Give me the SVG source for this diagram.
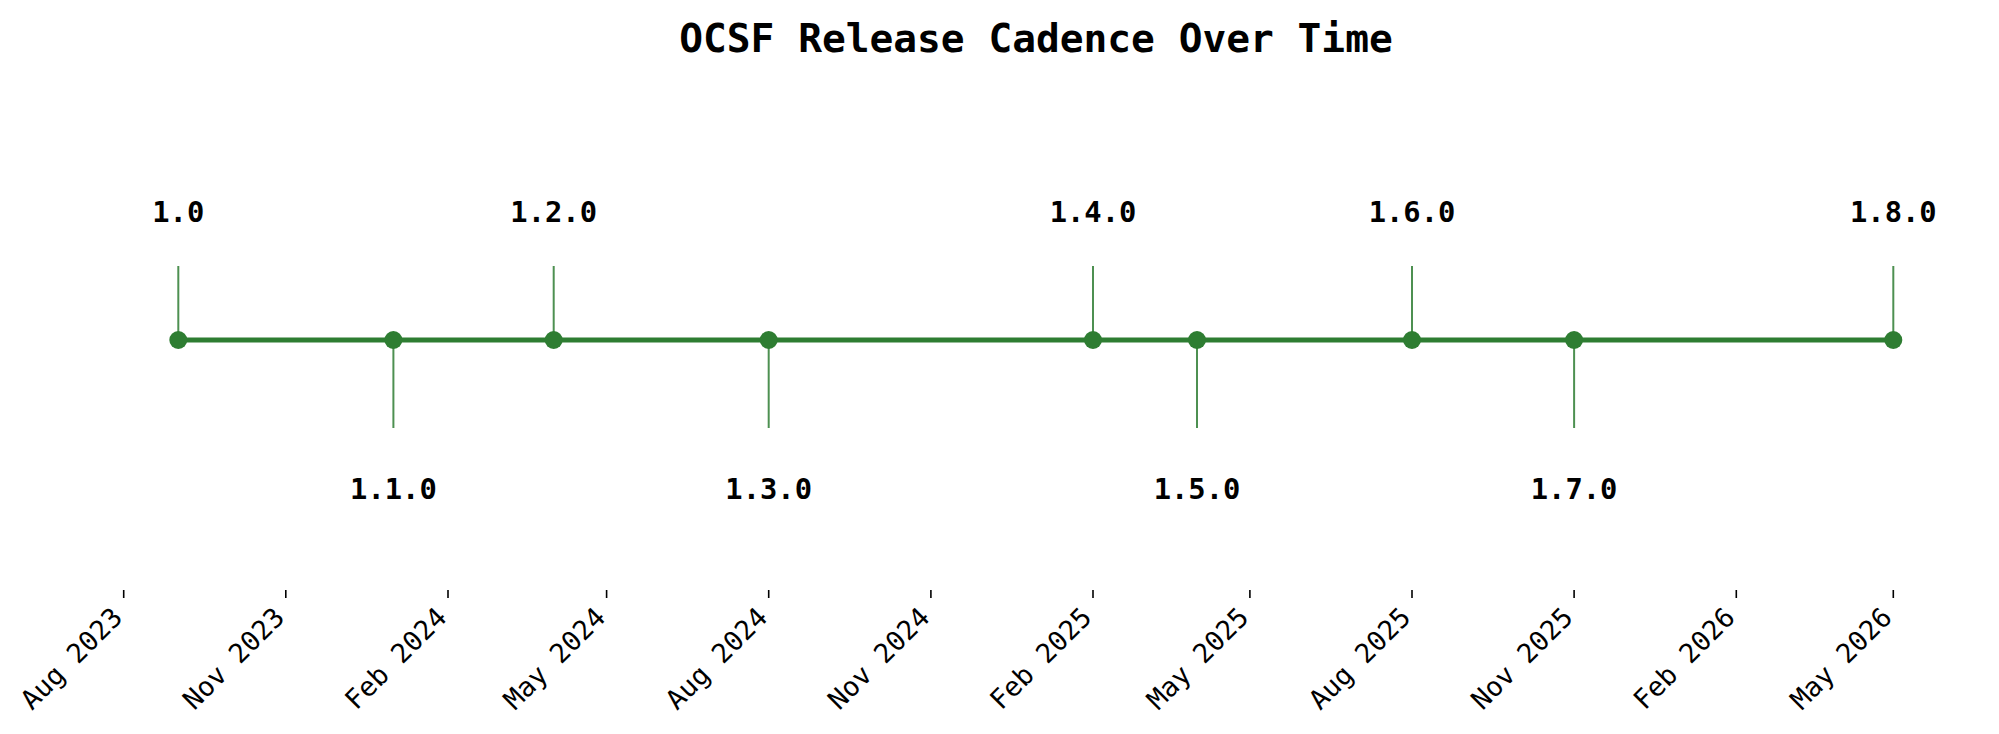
<svg xmlns="http://www.w3.org/2000/svg" width="1999" height="734" viewBox="0 0 1999 734">
<style>
.title{font-family:"DejaVu Sans Mono",monospace;font-weight:bold;font-size:39.5px;fill:#000;text-anchor:middle}
.lbl{font-family:"DejaVu Sans Mono",monospace;font-weight:bold;font-size:28.8px;fill:#000;text-anchor:middle}
.tick{font-family:"DejaVu Sans Mono",monospace;font-size:27px;fill:#000;text-anchor:end}
.stem{stroke:#2e7d32;stroke-opacity:0.85;stroke-width:2}
.dot{fill:#2e7d32}
.tk{stroke:#000;stroke-width:1.6}
</style>
<rect width="1999" height="734" fill="#fff"/>
<text class="title" x="1036" y="52">OCSF Release Cadence Over Time</text>
<g id="connectors">
<line x1="178.3" y1="340" x2="1893.3" y2="340" stroke="#2e7d32" stroke-width="5"/>
<line class="stem" x1="178.3" y1="340" x2="178.3" y2="266"/>
<line class="stem" x1="393.4" y1="340" x2="393.4" y2="428"/>
<line class="stem" x1="553.7" y1="340" x2="553.7" y2="266"/>
<line class="stem" x1="768.7" y1="340" x2="768.7" y2="428"/>
<line class="stem" x1="1093" y1="340" x2="1093" y2="266"/>
<line class="stem" x1="1197" y1="340" x2="1197" y2="428"/>
<line class="stem" x1="1412" y1="340" x2="1412" y2="266"/>
<line class="stem" x1="1574.1" y1="340" x2="1574.1" y2="428"/>
<line class="stem" x1="1893.3" y1="340" x2="1893.3" y2="266"/>
</g>
<g id="r10"><circle class="dot" cx="178.3" cy="340" r="9"/><text class="lbl" x="178.3" y="221.7">1.0</text></g>
<g id="r110"><circle class="dot" cx="393.4" cy="340" r="9"/><text class="lbl" x="393.4" y="498.7">1.1.0</text></g>
<g id="r120"><circle class="dot" cx="553.7" cy="340" r="9"/><text class="lbl" x="553.7" y="221.7">1.2.0</text></g>
<g id="r130"><circle class="dot" cx="768.7" cy="340" r="9"/><text class="lbl" x="768.7" y="498.7">1.3.0</text></g>
<g id="r140"><circle class="dot" cx="1093" cy="340" r="9"/><text class="lbl" x="1093" y="221.7">1.4.0</text></g>
<g id="r150"><circle class="dot" cx="1197" cy="340" r="9"/><text class="lbl" x="1197" y="498.7">1.5.0</text></g>
<g id="r160"><circle class="dot" cx="1412" cy="340" r="9"/><text class="lbl" x="1412" y="221.7">1.6.0</text></g>
<g id="r170"><circle class="dot" cx="1574.1" cy="340" r="9"/><text class="lbl" x="1574.1" y="498.7">1.7.0</text></g>
<g id="r180"><circle class="dot" cx="1893.3" cy="340" r="9"/><text class="lbl" x="1893.3" y="221.7">1.8.0</text></g>
<g id="xaxis">
<line class="tk" x1="123.7" y1="590" x2="123.7" y2="598"/><text class="tick" transform="translate(124,619) rotate(-45)">Aug 2023</text>
<line class="tk" x1="285.8" y1="590" x2="285.8" y2="598"/><text class="tick" transform="translate(286.1,619) rotate(-45)">Nov 2023</text>
<line class="tk" x1="448" y1="590" x2="448" y2="598"/><text class="tick" transform="translate(448.3,619) rotate(-45)">Feb 2024</text>
<line class="tk" x1="606.6" y1="590" x2="606.6" y2="598"/><text class="tick" transform="translate(606.9,619) rotate(-45)">May 2024</text>
<line class="tk" x1="768.7" y1="590" x2="768.7" y2="598"/><text class="tick" transform="translate(769,619) rotate(-45)">Aug 2024</text>
<line class="tk" x1="930.9" y1="590" x2="930.9" y2="598"/><text class="tick" transform="translate(931.2,619) rotate(-45)">Nov 2024</text>
<line class="tk" x1="1093" y1="590" x2="1093" y2="598"/><text class="tick" transform="translate(1093.3,619) rotate(-45)">Feb 2025</text>
<line class="tk" x1="1249.9" y1="590" x2="1249.9" y2="598"/><text class="tick" transform="translate(1250.2,619) rotate(-45)">May 2025</text>
<line class="tk" x1="1412" y1="590" x2="1412" y2="598"/><text class="tick" transform="translate(1412.3,619) rotate(-45)">Aug 2025</text>
<line class="tk" x1="1574.1" y1="590" x2="1574.1" y2="598"/><text class="tick" transform="translate(1574.4,619) rotate(-45)">Nov 2025</text>
<line class="tk" x1="1736.3" y1="590" x2="1736.3" y2="598"/><text class="tick" transform="translate(1736.6,619) rotate(-45)">Feb 2026</text>
<line class="tk" x1="1893.3" y1="590" x2="1893.3" y2="598"/><text class="tick" transform="translate(1893.6,619) rotate(-45)">May 2026</text>
</g>
</svg>
